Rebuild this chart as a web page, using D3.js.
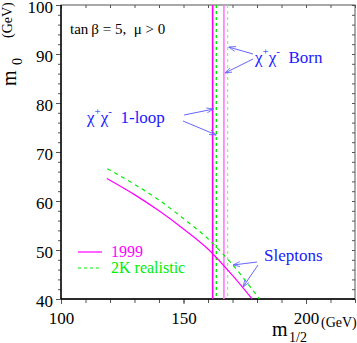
<!DOCTYPE html>
<html>
<head>
<meta charset="utf-8">
<script src="https://cdn.jsdelivr.net/npm/d3@7"></script>
<style>
  body { margin: 0; background: #fff; }
</style>
</head>
<body>
<svg id="chart" width="357" height="343"></svg>
<script>
// axis ranges
const xDomain = [100, 220];
const yDomain = [40, 100];
const xMajorTicks = [100, 150, 200];
const yMajorTicks = [40, 50, 60, 70, 80, 90, 100];

// chargino limits (vertical lines), [1999, 2K realistic]
const loopLimits = [161.9, 163.4];
const bornLimits = [166.5, 168.0];

// slepton limits
const slepton1999M12 = [118.7, 130, 140, 150, 160, 170, 178];
const slepton1999M0 = [64.6, 61.3, 58.0, 54.3, 50.2, 44.8, 40];
const slepton2KM12 = [118.9, 130, 140, 150, 160, 170, 181];
const slepton2KM0 = [66.6, 63.4, 60.2, 56.4, 52.3, 47.0, 40];

const legendNames = ['1999', '2K realistic'];

const serif = 'Liberation Serif';
const magenta = '#ff00ff';
const magentaLight = '#ff77ff';
const green = '#00ee00';
const greenLight = '#77ff77';
const blue = '#1a1aff';
const arrowColor = '#6666ff';

const margin = { left: 61, top: 5, right: 2, bottom: 44 };
const width = 357, height = 343;

const svg = d3.select('#chart').attr('font-family', serif);
const x = d3.scaleLinear().domain(xDomain).range([margin.left, width - margin.right]);
const y = d3.scaleLinear().domain(yDomain).range([height - margin.bottom, margin.top]);

const x0 = x.range()[0], x1 = x.range()[1];
const y0 = y.range()[0], y1 = y.range()[1];

const defs = svg.append('defs');
defs.append('clipPath').attr('id', 'clip')
  .append('rect').attr('x', x0).attr('y', y1).attr('width', x1 - x0).attr('height', y0 - y1);

defs.append('marker')
  .attr('id', 'arrow')
  .attr('viewBox', '0 -4 10 8')
  .attr('refX', 10)
  .attr('markerWidth', 7)
  .attr('markerHeight', 6)
  .attr('orient', 'auto')
  .append('path')
  .attr('d', 'M0,-3.5 L10,0 L0,3.5')
  .attr('fill', 'none')
  .attr('stroke', arrowColor)
  .attr('stroke-width', 1.2);

// 坐标轴
const xMinor = d3.range(xDomain[0], xDomain[1] + 0.1, 10);
const yMinor = d3.range(yDomain[0], yDomain[1] + 0.1, 2);

const xAxis = svg.append('g')
  .attr('transform', `translate(0,${y0})`)
  .call(d3.axisBottom(x).tickValues(xMinor).tickSize(4).tickFormat(''));
xAxis.select('.domain').remove();
const xLab = svg.append('g')
  .attr('transform', `translate(0,${y0})`)
  .call(d3.axisBottom(x).tickValues(xMajorTicks).tickSize(5).tickPadding(8));
xLab.select('.domain').remove();
xLab.attr('font-family', serif).attr('font-size', 17);
xLab.selectAll('text').attr('fill', '#000');

const xTop = svg.append('g')
  .attr('transform', `translate(0,${y1})`)
  .call(d3.axisBottom(x).tickValues(xMinor).tickSize(3).tickFormat(''));
xTop.select('.domain').remove();

const yAxis = svg.append('g')
  .attr('transform', `translate(${x0},0)`)
  .call(d3.axisLeft(y).tickValues(yMinor).tickSize(3).tickFormat(''));
yAxis.select('.domain').remove();
const yLab = svg.append('g')
  .attr('transform', `translate(${x0},0)`)
  .call(d3.axisLeft(y).tickValues(yMajorTicks).tickSize(5).tickPadding(3));
yLab.select('.domain').remove();
yLab.attr('font-family', serif).attr('font-size', 17);
yLab.selectAll('text').attr('fill', '#000').attr('dy', '0.45em');

const yRight = svg.append('g')
  .attr('transform', `translate(${x1},0)`)
  .call(d3.axisLeft(y).tickValues(yMinor).tickSize(3).tickFormat(''));
yRight.select('.domain').remove();

svg.selectAll('.tick line').attr('stroke', '#555');

// frame
svg.append('rect')
  .attr('x', x0).attr('y', y1)
  .attr('width', x1 - x0).attr('height', y0 - y1)
  .attr('fill', 'none').attr('stroke', '#555').attr('stroke-width', 1);
svg.append('line').attr('x1', x0).attr('x2', x1).attr('y1', y0).attr('y2', y0)
  .attr('stroke', '#000').attr('stroke-width', 1.6);
svg.append('line').attr('x1', x0).attr('x2', x0).attr('y1', y0).attr('y2', y1)
  .attr('stroke', '#000').attr('stroke-width', 1.4);

// 曲线
const plot = svg.append('g').attr('clip-path', 'url(#clip)');

// vertical chargino limits
const vlines = [
  { v: loopLimits[0], color: magenta, dash: null, w: 1.6 },
  { v: loopLimits[1], color: green, dash: '3,3', w: 1.4 },
  { v: bornLimits[0], color: magentaLight, dash: null, w: 1.6 },
  { v: bornLimits[1], color: greenLight, dash: '3,3', w: 1.2 }
];
plot.selectAll('.vline').data(vlines).enter().append('line')
  .attr('x1', d => x(d.v)).attr('x2', d => x(d.v))
  .attr('y1', y1).attr('y2', y0)
  .attr('stroke', d => d.color)
  .attr('stroke-width', d => d.w)
  .attr('stroke-dasharray', d => d.dash);

const line = d3.line().x(d => x(d[0])).y(d => y(d[1])).curve(d3.curveMonotoneX);
plot.append('path')
  .attr('d', line(d3.zip(slepton1999M12, slepton1999M0)))
  .attr('fill', 'none').attr('stroke', magenta).attr('stroke-width', 1.2);
plot.append('path')
  .attr('d', line(d3.zip(slepton2KM12, slepton2KM0)))
  .attr('fill', 'none').attr('stroke', green).attr('stroke-width', 1.2)
  .attr('stroke-dasharray', '4,4');

// labels
svg.append('text')
  .attr('x', 70).attr('y', 34)
  .attr('font-size', 15)
  .text('tan\u2009β = 5,\u2002μ > 0');

function chiLabel(xp, yp, tail) {
  const t = svg.append('text').attr('x', xp).attr('y', yp).attr('font-size', 17).attr('fill', blue);
  t.append('tspan').text('χ');
  t.append('tspan').attr('dy', -8).attr('font-size', 11).text('+');
  t.append('tspan').attr('dy', 8).text('χ');
  t.append('tspan').attr('dy', -8).attr('font-size', 11).text('-');
  t.append('tspan').attr('dy', 8).text('\u2002' + tail);
}
chiLabel(87, 123, '1-loop');
chiLabel(255, 63, 'Born');

svg.append('text')
  .attr('x', 264).attr('y', 261)
  .attr('font-size', 17).attr('fill', blue)
  .text('Sleptons');

function arrow(xa, ya, xb, yb) {
  svg.append('line')
    .attr('x1', xa).attr('y1', ya).attr('x2', xb).attr('y2', yb)
    .attr('stroke', arrowColor).attr('stroke-width', 1)
    .attr('marker-end', 'url(#arrow)');
}
// arrows point at the limit lines
arrow(184, 115, x(loopLimits[0]) + 1, 109);
arrow(183, 121, x(loopLimits[1]), 135);
arrow(253, 54, x(bornLimits[1]) + 1, 47);
arrow(253, 59, x(bornLimits[0]) + 1, 73);
arrow(257, 262, 233, 265);
arrow(258, 265, 243, 287);

// legend
const legend = svg.append('g');
legendNames.forEach((name, i) => {
  const ly = 252 + i * 16;
  legend.append('line')
    .attr('x1', 78).attr('x2', 102).attr('y1', ly).attr('y2', ly)
    .attr('stroke', i === 0 ? magenta : green)
    .attr('stroke-width', 1.2)
    .attr('stroke-dasharray', i === 0 ? null : '3,3');
  legend.append('text')
    .attr('x', 111).attr('y', ly + 5)
    .attr('font-size', 16)
    .attr('fill', i === 0 ? magenta : green)
    .text(name);
});

// axis titles
svg.append('text').attr('x', 272).attr('y', 336).attr('font-size', 20).text('m');
svg.append('text').attr('x', 289).attr('y', 342).attr('font-size', 14).text('1/2');
svg.append('text').attr('x', 321).attr('y', 327).attr('font-size', 14).text('(GeV)');

svg.append('text').attr('transform', 'translate(16,86) rotate(-90)').attr('font-size', 20).text('m');
svg.append('text').attr('transform', 'translate(22,65) rotate(-90)').attr('font-size', 14).text('0');
svg.append('text').attr('transform', 'translate(12,38) rotate(-90)').attr('font-size', 14).text('(GeV)');
</script>
</body>
</html>
